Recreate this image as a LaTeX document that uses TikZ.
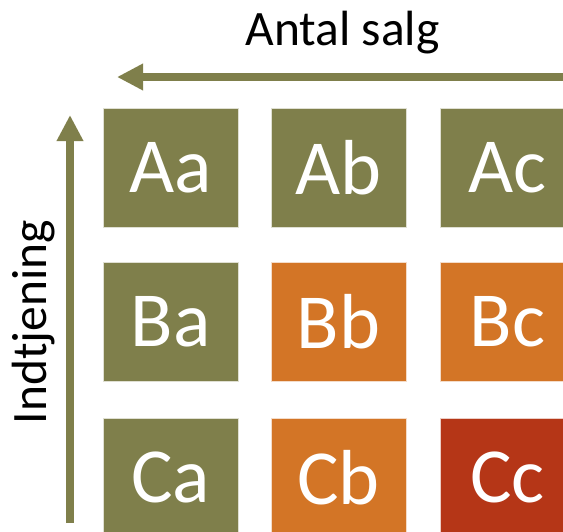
\documentclass[tikz,border=0pt]{standalone}
\usepackage{fontspec}
\setmainfont{Carlito}
\usetikzlibrary{arrows.meta}
\definecolor{olive}{RGB}{127,127,75}
\definecolor{orng}{RGB}{211,117,38}
\definecolor{rust}{RGB}{181,54,23}
\tikzset{
  cell/.style={minimum width=135pt, minimum height=119pt, inner sep=0pt, text=white,
    font=\fontsize{78}{80}\selectfont, draw=white!75!#1, line width=0.8pt, fill=#1},
  axisarrow/.style={draw=olive, line width=8.5pt, -{Triangle[length=26pt,width=25pt]}},
  axislabel/.style={font=\fontsize{49.5}{52}\selectfont, text=black, inner sep=0pt}
}
\begin{document}
\begin{tikzpicture}[x=1pt,y=-1pt]
\useasboundingbox (0,0) rectangle (563,531);
\node[cell=olive] (Aa) at (170.5,167.5) {Aa};
\node[cell=olive] (Ab) at (338.5,167.5) {Ab};
\node[cell=olive] (Ac) at (507.5,167.5) {Ac};
\node[cell=olive] (Ba) at (170.5,322) {Ba};
\node[cell=orng] (Bb) at (338.5,322) {Bb};
\node[cell=orng] (Bc) at (507.5,322) {Bc};
\node[cell=olive] (Ca) at (170.5,477.5) {Ca};
\node[cell=orng] (Cb) at (338.5,477.5) {Cb};
\node[cell=rust] (Cc) at (507.5,477.5) {Cc};
\coordinate (hstart) at (563,77);
\coordinate (hend) at (117,77);
\coordinate (vstart) at (70,523);
\coordinate (vend) at (70,115);
\draw[axisarrow] (hstart) -- (hend);
\draw[axisarrow] (vstart) -- (vend);
\node[axislabel, anchor=base] (xlab) at (342.5,45) {Antal salg};
\node[axislabel, anchor=base, rotate=90] (ylab) at (46,322) {Indtjening};
\end{tikzpicture}
\end{document}
